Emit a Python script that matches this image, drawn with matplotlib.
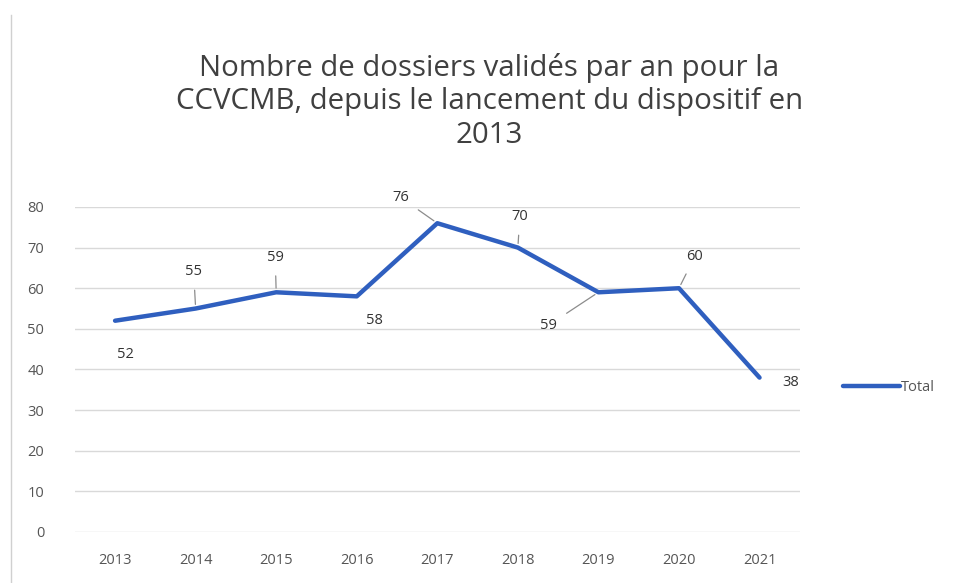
import matplotlib
matplotlib.use('Agg')
import matplotlib.pyplot as plt

plt.rcParams['font.family'] = ['Open Sans', 'DejaVu Sans']

years = ['2013', '2014', '2015', '2016', '2017', '2018', '2019', '2020', '2021']
dossiers = [52, 55, 59, 58, 76, 70, 59, 60, 38]

# decalage des etiquettes (pixels) et presence d'une ligne de rappel
label_offsets = [(10, -34), (-2, 37), (-1, 35), (18, -24), (-37, 26),
                 (2, 31), (-50, -33), (16, 32), (31, -5)]
leaders = [False, True, True, False, True, True, True, True, False]

blue = '#2f5fbf'
grey_txt = '#555555'

fig = plt.figure(figsize=(9.59, 5.83), dpi=100)
ax = fig.add_axes([0.078, 0.0875, 0.756, 0.5575])

x = list(range(len(years)))
line, = ax.plot(x, dossiers, color=blue, linewidth=3.2, solid_joinstyle='round',
                solid_capstyle='round', label='Total', zorder=3)

for i, v in enumerate(dossiers):
    dx, dy = label_offsets[i]
    props = None
    if leaders[i]:
        props = dict(arrowstyle='-', color='#8c8c8c', lw=0.9, shrinkA=6, shrinkB=3)
    ax.annotate(str(v), xy=(i, v), xytext=(dx, dy), textcoords='offset pixels',
                ha='center', va='center', fontsize=10.5, color='#333333',
                arrowprops=props, zorder=4)

ax.set_xlim(-0.5, len(years) - 0.5)
ax.set_ylim(0, 80)
ax.set_yticks(range(0, 81, 10))
ax.set_xticks(x)
ax.set_xticklabels(years)
ax.yaxis.grid(True, color='#d9d9d9', linewidth=1)
ax.set_axisbelow(True)
for s in ax.spines.values():
    s.set_visible(False)
ax.tick_params(axis='both', length=0, labelsize=10.5, labelcolor=grey_txt)
ax.tick_params(axis='y', pad=22)
ax.tick_params(axis='x', pad=15)

fig.text(0.51, 0.826, "Nombre de dossiers validés par an pour la\n"
         "CCVCMB, depuis le lancement du dispositif en\n2013",
         ha='center', va='center', fontsize=21.2, color='#404040', linespacing=1.2)

fig.legend(handles=[line], loc='center left', bbox_to_anchor=(0.865, 0.335),
           frameon=False, fontsize=10.5, handlelength=3.9, handletextpad=0.1,
           labelcolor=grey_txt)

# cadre du graphique (scan)
fig.add_artist(plt.Line2D([0.011, 0.011], [0.0, 0.975], color='#d0d0d0', lw=1,
                          transform=fig.transFigure))

fig.savefig('out.png', dpi=100, facecolor='white')
